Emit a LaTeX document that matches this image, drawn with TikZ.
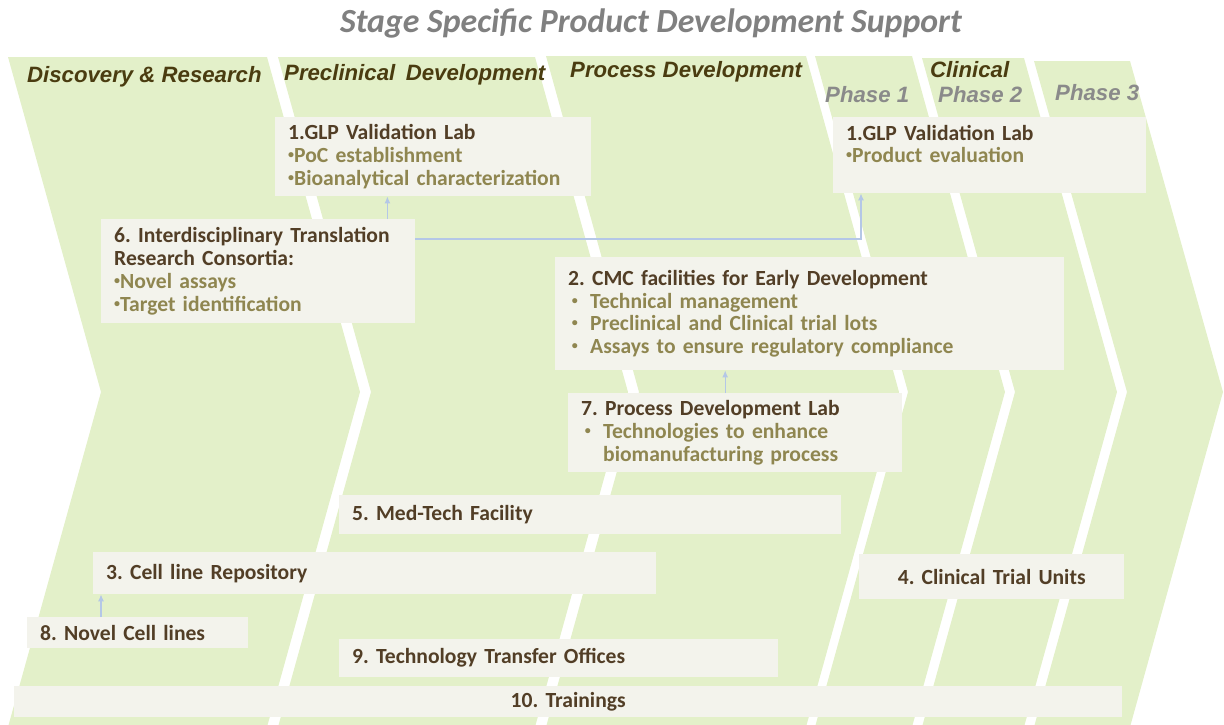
\documentclass[tikz,border=0pt]{standalone}
\usepackage{fontspec}
\setmainfont{Carlito}
\newfontfamily\headfont{Liberation Sans}
\usepackage{xcolor}
\usepackage{tikz}
\usetikzlibrary{arrows.meta}

\definecolor{chevgreen}{RGB}{227,240,201}
\definecolor{boxfill}{RGB}{243,243,236}
\definecolor{boxtitle}{RGB}{82,62,38}
\definecolor{bulletol}{RGB}{143,134,80}
\definecolor{headol}{RGB}{74,60,16}
\definecolor{phasegray}{RGB}{138,138,138}
\definecolor{titlegray}{RGB}{128,128,128}
\definecolor{linkblue}{RGB}{180,199,231}
\frenchspacing

\begin{document}
\begin{tikzpicture}[x=1pt, y=-1pt,
  chev/.style = {fill=chevgreen},
  box/.style = {fill=boxfill, anchor=north west, inner xsep=13pt, inner ysep=0pt, align=left, text=boxtitle, font=\fontsize{21.6}{22.7}\selectfont\bfseries},
  head/.style = {anchor=west, inner sep=0pt, text=headol, font=\headfont\fontsize{22.2}{25}\selectfont\bfseries\itshape},
  phase/.style = {head, text=phasegray},
  link/.style = {draw=linkblue, line width=1.2pt, -{Latex[length=7pt,width=6pt]}}]
\useasboundingbox (0,0) rectangle (1224,724);

% chevrons
\foreach \a/\b/\t in {8/267/57, 278/535/57, 546/806/56, 815/912/56, 922/1024/58, 1034/1130/61}
  \fill[chev] (\a,\t) -- (\b,\t) -- (\b+93,392) -- (\b,727) -- (\a,727) -- (\a+93,392) -- cycle;

\node[text=titlegray, font=\fontsize{33.8}{38}\selectfont\bfseries\itshape] (title) at (651,23) {Stage Specific Product Development Support};

\node[head] (disc) at (27,77) {Discovery \& Research};
\node[head] (precl) at (284,75) {Preclinical\hspace{0.2em} Development};
\node[head] (proc) at (570,72) {Process Development};
\node[head] (clin) at (930,70) {Clinical};
\node[phase] (ph1) at (825,95) {Phase 1};
\node[phase] (ph2) at (938,95) {Phase 2};
\node[phase] (ph3) at (1055,93) {Phase 3};

% boxes
\node[box, text width=290pt, minimum height=79pt] (glpa) at (275,117) {1.GLP Validation Lab\\
  \textcolor{bulletol}{\raisebox{0.18em}{\fontsize{12}{12}\selectfont•}PoC establishment}\\
  \textcolor{bulletol}{\raisebox{0.18em}{\fontsize{12}{12}\selectfont•}Bioanalytical characterization}};
\node[box, text width=287pt, minimum height=76pt] (glpb) at (833,117) {1.GLP Validation Lab\\
  \textcolor{bulletol}{\raisebox{0.18em}{\fontsize{12}{12}\selectfont•}Product evaluation}\\ \mbox{}};
\node[box, text width=288pt, minimum height=104pt] (itrc) at (101,219) {6. Interdisciplinary Translation\\
  Research Consortia:\\
  \textcolor{bulletol}{\raisebox{0.18em}{\fontsize{12}{12}\selectfont•}Novel assays}\\
  \textcolor{bulletol}{\raisebox{0.18em}{\fontsize{12}{12}\selectfont•}Target identification}};
\node[box, text width=483pt, minimum height=113pt] (cmc) at (555,257) {2. CMC facilities for Early Development\\
  \textcolor{bulletol}{\makebox[22pt][l]{\,\raisebox{0.18em}{\fontsize{12}{12}\selectfont•}}Technical management}\\
  \textcolor{bulletol}{\makebox[22pt][l]{\,\raisebox{0.18em}{\fontsize{12}{12}\selectfont•}}Preclinical and Clinical trial lots}\\
  \textcolor{bulletol}{\makebox[22pt][l]{\,\raisebox{0.18em}{\fontsize{12}{12}\selectfont•}}Assays to ensure regulatory compliance}};
\node[box, text width=308pt, minimum height=79pt] (pdlab) at (568,393) {7. Process Development Lab\\
  \textcolor{bulletol}{\makebox[22pt][l]{\,\raisebox{0.18em}{\fontsize{12}{12}\selectfont•}}Technologies to enhance}\\
  \textcolor{bulletol}{\hspace*{22pt}biomanufacturing process}};
\node[box, text width=476pt, minimum height=39pt] (medtech) at (339,495) {5. Med-Tech Facility};
\node[box, text width=537pt, minimum height=42pt] (repo) at (93,552) {3. Cell line Repository};
\node[box, text width=195pt, minimum height=31pt] (novel) at (27,617) {8. Novel Cell lines};
\node[box, text width=413pt, minimum height=38pt] (tto) at (339,639) {9. Technology Transfer Offices};
\node[box, align=center, text width=1082pt, minimum height=31pt] (train) at (14,686) {10. Trainings};
\node[box, align=center, text width=239pt, minimum height=45pt] (ctu) at (859,554) {4. Clinical Trial Units};

% links
\draw[link] ([xshift=-28pt]itrc.north east) -- ([xshift=-28pt]itrc.north east |- glpa.south);
\draw[link] ([yshift=-20pt]itrc.north east) -| ([xshift=28pt]glpb.south west);
\draw[link] ([xshift=-10pt]pdlab.north) -- ([xshift=-10pt]pdlab.north |- cmc.south);
\draw[link] ([xshift=74pt]novel.north west) -- ([xshift=74pt]novel.north west |- repo.south);
\end{tikzpicture}
\end{document}
